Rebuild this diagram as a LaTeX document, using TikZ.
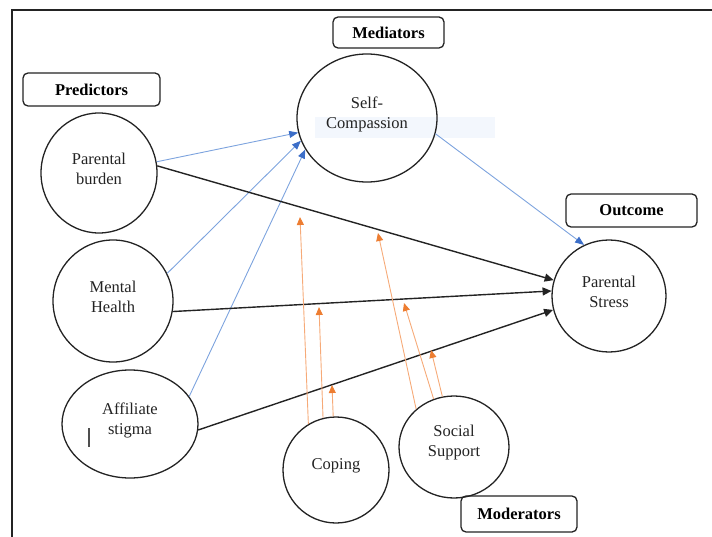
\documentclass[tikz,border=0pt]{standalone}
\usepackage{fontspec}
\setmainfont{Liberation Serif}
\usetikzlibrary{arrows.meta,shapes.geometric}
\definecolor{bline}{RGB}{125,163,222}
\definecolor{bhead}{RGB}{60,110,200}
\definecolor{oline}{RGB}{246,170,120}
\definecolor{ohead}{RGB}{237,125,49}
\definecolor{ink}{RGB}{35,35,35}
\definecolor{snip}{RGB}{243,247,253}
\begin{document}
\begin{tikzpicture}[x=1pt,y=-1pt,
 var/.style={ellipse,draw=ink,line width=1.3pt,inner sep=0pt},
 vt/.style={label={[font=\fontsize{16.5}{20}\selectfont,text=ink,align=center,yshift=4pt]center:#1}},
 lab/.style={draw=ink,line width=1.3pt,rounded corners=5pt,font=\fontsize{16.5}{20}\selectfont\bfseries,inner sep=0pt},
 barr/.style={draw=bline,line width=0.9pt,-{Triangle[length=9pt,width=7pt,color=bhead]}},
 karr/.style={draw=ink,line width=1.4pt,-{Triangle[length=9pt,width=8pt]}},
 oarr/.style={draw=oline,line width=0.9pt,-{Triangle[length=8pt,width=7pt,color=ohead]}},
]
\useasboundingbox (0,0) rectangle (712,537);
\draw[line width=1.3pt,ink] (12,537) -- (12,10) -- (712,10);
% faint snip artefact
\fill[snip] (315,117) rectangle (495,138);

% variables
\node[var,minimum width=140pt,minimum height=128pt,vt={Self-\\Compassion}] (sc) at (367,118) {};
\node[var,minimum width=116pt,minimum height=120pt,vt={Parental\\burden}] (pb) at (99,173) {};
\node[var,minimum width=120pt,minimum height=122pt,vt={Mental\\Health}] (mh) at (113,301) {};
\node[var,minimum width=136pt,minimum height=108pt,vt={Affiliate\\stigma}] (as) at (130,424) {};
\node[var,minimum width=114pt,minimum height=112pt,vt={Parental\\Stress}] (ps) at (609,296) {};
\node[var,minimum width=106pt,minimum height=106pt,vt={Coping}] (cp) at (336,470) {};
\node[var,minimum width=110pt,minimum height=102pt,vt={Social\\Support}] (ss) at (454,447) {};
\draw[ink!80,line width=1.1pt] (89,428) -- (89,447);

% group labels
\node[lab,minimum width=111pt,minimum height=31pt] (med) at (388.5,32.5) {Mediators};
\node[lab,minimum width=137pt,minimum height=33pt] (pred) at (91.5,89.5) {Predictors};
\node[lab,minimum width=131pt,minimum height=33pt] (outc) at (631.5,210.5) {Outcome};
\node[lab,minimum width=116pt,minimum height=36pt] (mod) at (519,514) {Moderators};

% mediation paths
\draw[barr] (pb.11.7) -- (sc.192);
\draw[barr] (mh.27.4) -- (sc.199);
\draw[barr] (as.25.8) -- (sc.207);
\draw[barr] (sc.-13.6) -- (ps.116);

% direct paths
\draw[karr] (pb.7.6) -- (ps.164);
\draw[karr] (mh.-10) -- (ps.175);
\draw[karr] (as.-5) -- (ps.194);

% moderation arrows
\coordinate (t1) at (300,217);
\coordinate (t2) at (319,307);
\coordinate (t3) at (332,385);
\coordinate (t4) at (378,233);
\coordinate (t5) at (404,303);
\coordinate (t6) at (431,350);
\draw[oarr] (cp.121) -- (t1);
\draw[oarr] (cp.104.6) -- (t2);
\draw[oarr] (cp.93.3) -- (t3);
\draw[oarr] (ss.135) -- (t4);
\draw[oarr] (ss.113.7) -- (t5);
\draw[oarr] (ss.103.5) -- (t6);
\end{tikzpicture}
\end{document}
